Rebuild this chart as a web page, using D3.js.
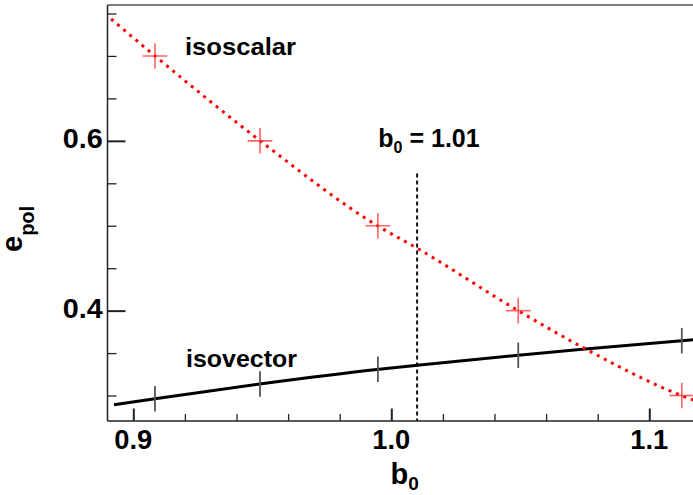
<!DOCTYPE html>
<html>
<head>
  <meta charset="utf-8">
  <title>e_pol vs b0</title>
  <script src="https://d3js.org/d3.v7.min.js"></script>
  <style>
    body { margin: 0; background: #fff; }
    svg { display: block; font-family: "Liberation Sans", Arial, sans-serif; font-weight: bold; }
  </style>
</head>
<body>
  <svg width="693" height="495"></svg>
  <script>
    // measured points
    const pointX = [0.9084, 0.9491, 0.9948, 1.0492, 1.1126];
    const scalarY = [0.700, 0.600, 0.500, 0.400, 0.300];
    const vectorY = [0.2963, 0.3136, 0.3309, 0.3474, 0.3646];
    const errX = [0.0048, 0.0048, 0.0048, 0.0048, 0.0048];
    const errY = [0.015, 0.015, 0.015, 0.015, 0.015];

    // fitted curves
    const scalarFitX = [0.8914, 0.9084, 0.9491, 0.9948, 1.0101, 1.0492, 1.0751, 1.1126, 1.12];
    const scalarFitY = [0.7435, 0.700, 0.6002, 0.4997, 0.4734, 0.3999, 0.3552, 0.2998, 0.2915];
    const vectorFitX = [0.8925, 0.9084, 0.9491, 0.9953, 1.0101, 1.0492, 1.0751, 1.1126, 1.12];
    const vectorFitY = [0.2892, 0.2963, 0.3136, 0.3309, 0.3356, 0.3474, 0.3549, 0.3646, 0.3663];

    const b0Mark = 1.01;
    const b0MarkTop = 0.5616;

    const xMajor = [0.9, 1.0, 1.1];
    const xLabels = ["0.9", "1.0", "1.1"];
    const yMajor = [0.4, 0.6];
    const yLabels = ["0.4", "0.6"];

    const svg = d3.select("svg");
    const m = {left: 107.5, right: 700.9, top: 5, bottom: 421};

    const x = d3.scaleLinear().domain([0.89, 1.12]).range([m.left, m.right]);
    const y = d3.scaleLinear().domain([0.27, 0.76]).range([m.bottom, m.top]);

    svg.append("clipPath").attr("id", "plot")
      .append("rect").attr("x", m.left).attr("y", m.top)
      .attr("width", m.right - m.left).attr("height", m.bottom - m.top);

    const g = svg.append("g").attr("clip-path", "url(#plot)");

    const line = d3.line().curve(d3.curveMonotoneX).x(d => x(d[0])).y(d => y(d[1]));

    // vertical marker
    g.append("line")
      .attr("x1", x(b0Mark)).attr("x2", x(b0Mark))
      .attr("y1", y(b0MarkTop)).attr("y2", y(0.27))
      .attr("stroke", "#111").attr("stroke-width", 2).attr("stroke-dasharray", "4,3");

    // isovector
    g.append("path")
      .datum(d3.zip(vectorFitX, vectorFitY))
      .attr("fill", "none").attr("stroke", "#000").attr("stroke-width", 3)
      .attr("d", line);

    g.selectAll(".verr").data(d3.range(pointX.length)).join("line")
      .attr("x1", i => x(pointX[i])).attr("x2", i => x(pointX[i]))
      .attr("y1", i => y(vectorY[i] - errY[i])).attr("y2", i => y(vectorY[i] + errY[i]))
      .attr("stroke", "#555").attr("stroke-width", 1.8);

    // isoscalar
    g.append("path")
      .datum(d3.zip(scalarFitX, scalarFitY))
      .attr("fill", "none").attr("stroke", "#ff0000").attr("stroke-width", 3)
      .attr("stroke-dasharray", "3,5")
      .attr("d", line);

    const sc = g.selectAll(".serr").data(d3.range(pointX.length)).join("g")
      .attr("stroke", "#ff3030").attr("stroke-opacity", 0.75).attr("stroke-width", 1.6);
    sc.append("line")
      .attr("x1", i => x(pointX[i])).attr("x2", i => x(pointX[i]))
      .attr("y1", i => y(scalarY[i] - errY[i])).attr("y2", i => y(scalarY[i] + errY[i]));
    sc.append("line")
      .attr("x1", i => x(pointX[i] - errX[i])).attr("x2", i => x(pointX[i] + errX[i]))
      .attr("y1", i => y(scalarY[i])).attr("y2", i => y(scalarY[i]));

    // frame
    svg.append("line").attr("x1", m.left).attr("x2", 693).attr("y1", m.top).attr("y2", m.top)
      .attr("stroke", "#555").attr("stroke-width", 1.5);

    const xAxis = svg.append("g").attr("transform", `translate(0,${m.bottom})`)
      .call(d3.axisBottom(x).tickValues(d3.range(0.9, 1.121, 0.02)).tickSize(-7).tickFormat(""));
    xAxis.select(".domain").attr("d", `M${m.left},0H693`).attr("stroke", "#222").attr("stroke-width", 1.5);
    xAxis.selectAll(".tick line").attr("stroke", "#222").attr("stroke-width", 1.3)
      .filter(d => xMajor.some(v => Math.abs(v - d) < 1e-6)).attr("y2", -12.5).attr("stroke-width", 2);

    const yAxis = svg.append("g").attr("transform", `translate(${m.left},0)`)
      .call(d3.axisLeft(y).tickValues(d3.range(0.3, 0.76, 0.05)).tickSize(-9).tickFormat(""));
    yAxis.select(".domain").attr("d", `M0,${m.top}V${m.bottom}`).attr("stroke", "#222").attr("stroke-width", 1.5);
    yAxis.selectAll(".tick line").attr("stroke", "#222").attr("stroke-width", 1.3)
      .filter(d => yMajor.some(v => Math.abs(v - d) < 1e-6)).attr("x2", 18).attr("stroke-width", 2);

    // tick labels
    svg.selectAll(".xl").data(xMajor).join("text")
      .attr("x", d => x(d)).attr("y", 449).attr("text-anchor", "middle")
      .attr("font-size", 27).attr("textLength", 38).attr("lengthAdjust", "spacingAndGlyphs")
      .text((d, i) => xLabels[i]);
    svg.selectAll(".yl").data(yMajor).join("text")
      .attr("x", 102.7).attr("y", d => y(d) + 7.5).attr("text-anchor", "end")
      .attr("font-size", 27).attr("textLength", 40).attr("lengthAdjust", "spacingAndGlyphs")
      .text((d, i) => yLabels[i]);

    // axis titles
    const xt = svg.append("text").attr("x", 390.5).attr("y", 483.5);
    xt.append("tspan").attr("font-size", 29).text("b");
    xt.append("tspan").attr("font-size", 19).attr("dy", 6.7).text("0");

    const yt = svg.append("text").attr("transform", "translate(21.5,252) rotate(-90)");
    yt.append("tspan").attr("font-size", 29).text("e");
    yt.append("tspan").attr("font-size", 20).attr("dy", 12).text("pol");

    // annotations
    svg.append("text").attr("x", 185).attr("y", 55).attr("font-size", 24)
      .attr("textLength", 111).attr("lengthAdjust", "spacingAndGlyphs").text("isoscalar");
    svg.append("text").attr("x", 186).attr("y", 367).attr("font-size", 24)
      .attr("textLength", 111).attr("lengthAdjust", "spacingAndGlyphs").text("isovector");

    const bt = svg.append("text").attr("x", 378.3).attr("y", 147);
    bt.append("tspan").attr("font-size", 25).text("b");
    bt.append("tspan").attr("font-size", 16).attr("dy", 5.6).text("0");
    bt.append("tspan").attr("font-size", 25).attr("dy", -5.6).text(" = 1.01");
  </script>
</body>
</html>
